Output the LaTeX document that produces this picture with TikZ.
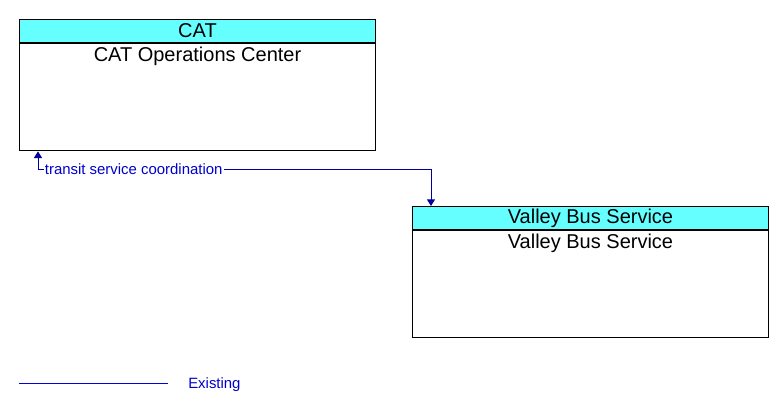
\documentclass[tikz,border=0pt]{standalone}
\usepackage{fontspec}
\setmainfont{Liberation Sans}
\usetikzlibrary{positioning,arrows.meta}

\definecolor{headCyan}{RGB}{102,255,255}
\definecolor{flowBlue}{RGB}{0,0,160}
\definecolor{textBlue}{RGB}{0,0,205}
\definecolor{legBlue}{RGB}{0,0,225}

\tikzset{
  elemHead/.style={draw, fill=headCyan, line width=0.75pt, minimum width=267pt,
    minimum height=17.25pt, inner sep=0pt, font=\fontsize{15}{15}\selectfont},
  elemBody/.style={draw, line width=0.75pt, minimum width=267pt,
    minimum height=80.5pt, inner sep=0pt},
  elemName/.style={anchor=north, inner sep=0pt, yshift=-3pt,
    font=\fontsize{15}{15}\selectfont},
  flow/.style={draw=flowBlue, line width=0.75pt,
    -{Triangle[length=5pt,width=6pt]}},
  flowLabel/.style={anchor=west, fill=white, inner sep=0.8pt, text=textBlue,
    font=\fontsize{11.2}{11.2}\selectfont}
}

\begin{document}
\begin{tikzpicture}[x=0.75pt, y=-0.75pt]
  \useasboundingbox (0,0) rectangle (783,412);

  % CAT
  \node[elemHead, anchor=north west] (catHead) at (19,19) {CAT};
  \node[elemBody, below=0pt of catHead] (catBody) {};
  \node[elemName] (catName) at (catBody.north) {CAT Operations Center};

  % Valley Bus Service
  \node[elemHead, anchor=north west] (valleyHead) at (412,206) {Valley Bus Service};
  \node[elemBody, below=0pt of valleyHead] (valleyBody) {};
  \node[elemName] (valleyName) at (valleyBody.north) {Valley Bus Service};

  % Flow
  \draw[flow, {Triangle[length=5pt,width=6pt]}-{Triangle[length=5pt,width=6pt]}]
    ([xshift=14.25pt]catBody.south west) -- ++(0,18)
    node[flowLabel, xshift=4pt] (flowText) {transit service coordination}
    -| ([xshift=14.25pt]valleyHead.north west);

  % Legend
  \coordinate (legStart) at (19,383);
  \coordinate (legEnd) at (168,383);
  \draw[legBlue, line width=0.75pt] (legStart) -- (legEnd);
  \node[anchor=west, inner sep=0pt, text=textBlue,
    font=\fontsize{11.2}{11.2}\selectfont] (legText) at (188,384.5) {Existing};
\end{tikzpicture}
\end{document}
